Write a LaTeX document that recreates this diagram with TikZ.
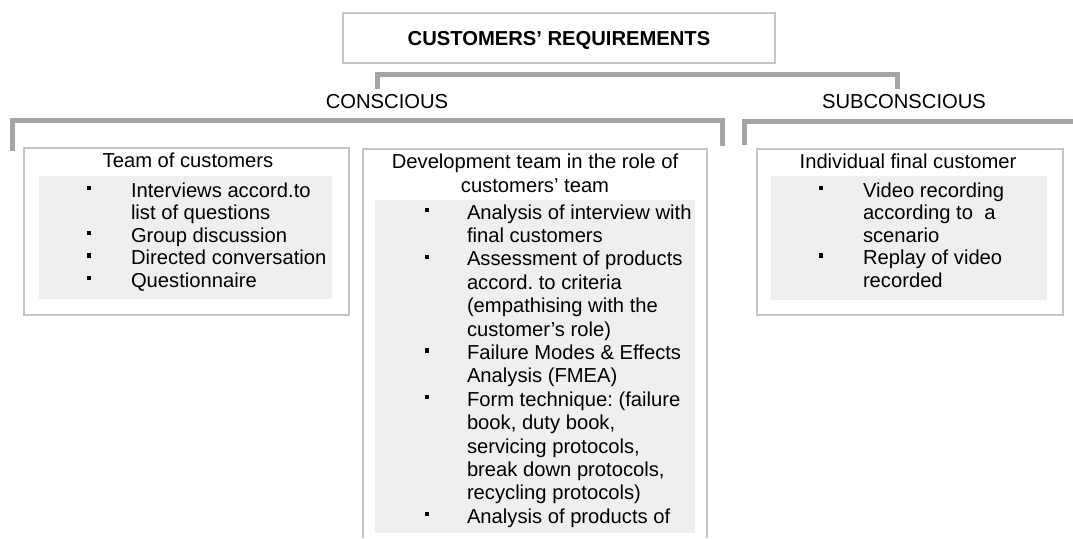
\documentclass[tikz,border=0pt]{standalone}
\usepackage{fontspec}
\setmainfont{Liberation Sans}
\definecolor{brk}{HTML}{A7A4A2}
\definecolor{bdr}{HTML}{C4C4C4}
\definecolor{shd}{HTML}{F0EFED}
\frenchspacing
\begin{document}
\begin{tikzpicture}[x=1pt,y=-1pt,
  txt/.style={inner sep=0pt, outer sep=0pt, font=\fontsize{20.2}{22.5}\selectfont\frenchspacing},
  ttl/.style={txt, anchor=base},
  item/.style={txt, anchor=base west},
  brack/.style={draw=brk, line width=5pt, line join=miter},
  boxln/.style={draw=bdr, line width=1.3pt},
  shadebox/.style={fill=shd, draw=none}]
\useasboundingbox (0,0) rectangle (1073,538);
\fill[white] (0,0) rectangle (1073,538);

% top box
\draw[boxln] (343,13) rectangle (775,63);
\node[ttl, font=\fontsize{20.2}{22.5}\selectfont\bfseries] (top) at (559,45) {CUSTOMERS’ REQUIREMENTS};

% level labels
\node[ttl] (cons) at (387,108) {CONSCIOUS};
\node[ttl] (subc) at (904,108) {SUBCONSCIOUS};

% brackets
\coordinate (tbl) at (377,89);
\coordinate (tbr) at (897,89);
\draw[brack] (tbl) -- (377,74) -- (897,74) -- (tbr);
\coordinate (cbl) at (12,151);
\coordinate (cbr) at (722,146);
\draw[brack] (cbl) -- (12,120) -- (722,120) -- (cbr);
\coordinate (sbl) at (744,145);
\coordinate (sbr) at (1073,121);
\draw[brack] (sbl) -- (744,121) -- (sbr);

% left box
\draw[boxln] (24,148) rectangle (349,315);
\fill[shadebox] (39,176) rectangle (332,299);
\node[ttl] (lt) at (188,167) {Team of customers};
\node[item] (l1) at (131,197) {Interviews accord.to};
\node[item] (l2) at (131,219.5) {list of questions};
\node[item] (l3) at (131,242) {Group discussion};
\node[item] (l4) at (131,264.5) {Directed conversation};
\node[item] (l5) at (131,287) {Questionnaire};
\foreach \b in {197,242,264.5,287}
  \fill[black] (86.8,\b-11.2) rectangle (91.2,\b-6.8);

% middle box
\draw[boxln] (363,538) -- (363,149) -- (707,149) -- (707,538);
\fill[shadebox] (375,200) rectangle (695,533);
\node[ttl] (mt1) at (535,168) {Development team in the role of};
\node[ttl] (mt2) at (535,192) {customers’ team};
\begin{scope}
\clip (375,200) rectangle (695,533);
\node[item] (m0) at (467,219) {Analysis of interview with};
\node[item] (m1) at (467,242.4) {final customers};
\node[item] (m2) at (467,265.8) {Assessment of products};
\node[item] (m3) at (467,289.2) {accord. to criteria};
\node[item] (m4) at (467,312.6) {(empathising with the};
\node[item] (m5) at (467,336) {customer’s role)};
\node[item] (m6) at (467,359.4) {Failure Modes \& Effects};
\node[item] (m7) at (467,382.8) {Analysis (FMEA)};
\node[item] (m8) at (467,406.2) {Form technique: (failure};
\node[item] (m9) at (467,429.6) {book, duty book,};
\node[item] (m10) at (467,453) {servicing protocols,};
\node[item] (m11) at (467,476.4) {break down protocols,};
\node[item] (m12) at (467,499.8) {recycling protocols)};
\node[item] (m13) at (467,523.2) {Analysis of products of};
\end{scope}
\foreach \b in {219,265.8,359.4,406.2,523.2}
  \fill[black] (424.8,\b-11.2) rectangle (429.2,\b-6.8);

% right box
\draw[boxln] (757,149) rectangle (1063,315);
\fill[shadebox] (771,176) rectangle (1047,300);
\node[ttl] (rt) at (908,168) {Individual final customer};
\node[item] (r0) at (863,197) {Video recording};
\node[item] (r1) at (863,219.5) {according to\ \ a};
\node[item] (r2) at (863,242) {scenario};
\node[item] (r3) at (863,264.5) {Replay of video};
\node[item] (r4) at (863,287) {recorded};
\foreach \b in {197,264.5}
  \fill[black] (818.8,\b-11.2) rectangle (823.2,\b-6.8);
\end{tikzpicture}
\end{document}
